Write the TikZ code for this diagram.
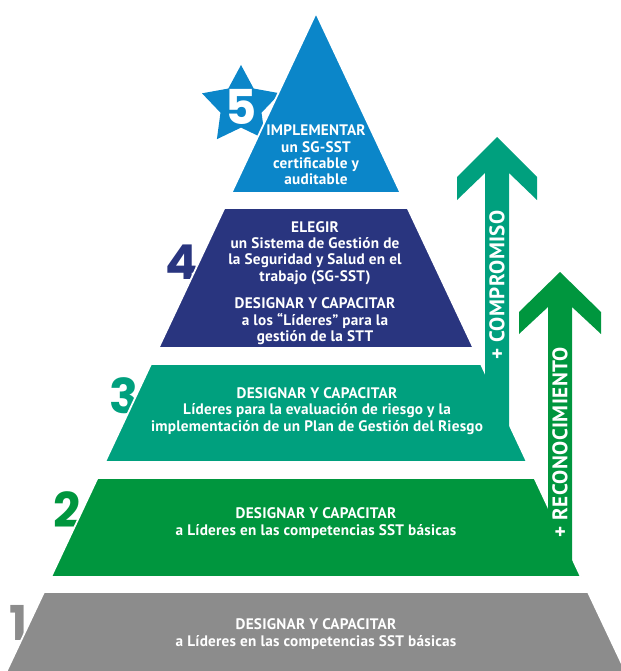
\documentclass[tikz,border=0pt]{standalone}
\usepackage{fontspec}
\setmainfont{PT Sans}
\newfontfamily\numfont{Poppins}
\usetikzlibrary{shapes.geometric, positioning}
\definecolor{SkyBlue}{HTML}{0B86C9}
\definecolor{Navy}{HTML}{29357F}
\definecolor{Teal}{HTML}{00A07E}
\definecolor{Leaf}{HTML}{00963E}
\definecolor{Stone}{HTML}{8C8C8C}

\begin{document}
\begin{tikzpicture}[x=0.03cm, y=-0.03cm,
    level/.style={draw=white, line width=1.5pt},
    lbl/.style={text=white, font=\fontsize{13}{14}\selectfont\bfseries\addfontfeature{LetterSpace=1.5},
                align=center, inner sep=0pt},
    num/.style={font=\fontsize{41}{41}\numfont\bfseries, inner sep=0pt},
    upword/.style={text=white, rotate=90, inner sep=0pt,
                   font=\fontsize{18}{18}\selectfont\bfseries\addfontfeature{LetterSpace=2}}
]
    \useasboundingbox (0,0) rectangle (621,671);
    \clip (0,0) rectangle (621,671);

    % Step numbers and star behind the pyramid
    \node[num, text=Navy] (n4) at (182,262) {4};
    \node[num, text=Teal] (n3) at (124,396) {3};
    \node[num, text=Leaf] (n2) at (67,510) {2};
    \node[num, text=Stone] (n1) at (19,623) {1};
    \node[star, star points=5, star point ratio=1.9, fill=SkyBlue,
          minimum size=2.46cm, inner sep=0pt] (star) at (241,106) {};

    % Pyramid levels
    \path[level, fill=Stone] (44,592) -- (588,592) -- (639,700) -- (-7,700) -- cycle;
    \path[level, fill=Leaf] (97.5,478) -- (534.5,478) -- (581,577) -- (51,577) -- cycle;
    \path[level, fill=Teal] (151,364) -- (481,364) -- (527,462) -- (105,462) -- cycle;
    \path[level, fill=Navy] (224.4,208) -- (407.6,208) -- (473.5,348) -- (158.5,348) -- cycle;
    \path[level, fill=SkyBlue] (316,13) -- (400.6,193) -- (231.4,193) -- cycle;

    \node[num, text=white] (n5) at (241,107) {5};

    % Texts
    \node[lbl] (t5) at (316,155) {IMPLEMENTAR\\un SG-SST\\certificable y\\auditable};
    \node[lbl] (t4a) at (315,253) {ELEGIR\\un Sistema de Gesti\'on de\\la Seguridad y Salud en el\\trabajo (SG-SST)};
    \node[lbl, below=0.38cm of t4a] (t4b) {DESIGNAR Y CAPACITAR\\a los “L\'ideres” para la\\gesti\'on de la STT};
    \node[lbl] (t3) at (317,411) {DESIGNAR Y CAPACITAR\\L\'ideres para la evaluaci\'on de riesgo y la\\implementaci\'on de un Plan de Gesti\'on del Riesgo};
    \node[lbl] (t2) at (316,523) {DESIGNAR Y CAPACITAR\\a L\'ideres en las competencias SST b\'asicas};
    \node[lbl] (t1) at (316,634) {DESIGNAR Y CAPACITAR\\a L\'ideres en las competencias SST b\'asicas};

    % Upward arrows
    \fill[Teal] (497,137) -- (537,177) -- (537,200) -- (509,173) -- (509,440)
        -- (485,440) -- (485,173) -- (457,200) -- (457,177) -- cycle;
    \fill[Leaf] (560,272) -- (601,312) -- (601,334) -- (572,307) -- (572,568)
        -- (548,568) -- (548,307) -- (519,334) -- (519,312) -- cycle;
    \node[upword] (up1) at (497,285) {+ COMPROMISO};
    \node[upword] (up2) at (560,442) {+ RECONOCIMIENTO};
\end{tikzpicture}
\end{document}
